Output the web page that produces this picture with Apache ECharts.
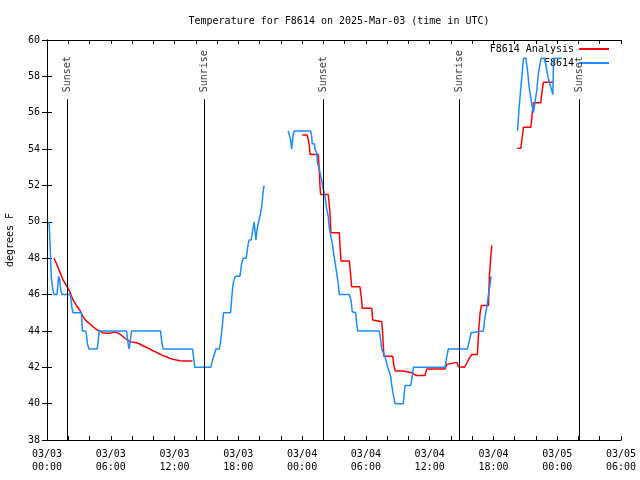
<!DOCTYPE html>
<html>
<head>
<meta charset="utf-8">
<script src="https://cdn.jsdelivr.net/npm/echarts@6/dist/echarts.min.js"></script>
<style>html,body{margin:0;padding:0;background:#fff}#c{width:640px;height:480px}</style>
</head>
<body>
<div id="c"></div>
<script>
// Hours since 2025-03-03 00:00 UTC; null marks a gap
const obsHours = [0.19,0.25,0.35,0.41,0.56,0.66,0.94,1.10,1.20,1.29,1.41,2.20,2.35,2.45,3.24,3.27,3.33,3.64,3.71,3.80,3.95,4.71,4.80,4.90,7.48,7.63,7.72,7.85,7.95,10.68,10.77,10.92,13.69,13.75,13.91,15.41,15.63,15.89,16.20,16.33,16.48,16.61,17.27,17.36,17.51,17.70,18.15,18.31,18.46,18.74,18.93,19.02,19.21,19.40,19.49,19.65,19.77,19.87,20.03,20.19,20.34,20.43,
  null,
  22.69,22.92,23.01,23.16,23.26,24.80,24.90,24.95,25.14,25.21,25.37,25.46,25.61,25.84,25.89,25.99,26.15,26.31,26.46,26.55,26.68,26.84,26.93,27.09,27.25,27.40,27.50,28.44,28.60,28.72,29.04,29.13,29.23,31.26,31.39,31.49,31.64,31.80,31.96,32.05,32.20,32.34,32.43,32.58,32.74,33.52,33.68,34.22,34.41,34.46,37.45,37.61,37.76,39.55,39.71,39.90,40.02,41.05,41.21,41.37,41.53,41.69,41.78,
  null,
  44.26,44.42,44.58,44.73,44.82,45.05,45.20,45.36,45.52,45.67,45.76,45.89,46.08,46.23,46.39,46.48,46.80,46.96,47.12,47.34,47.50,47.59,47.65,48.44];
const obsTemps = [50.0,49.3,47.8,46.9,46.25,46,46,47,46.8,46.25,46,46,45.25,45,45,44.6,44,44,43.8,43.3,43,43,43.3,44,44,43.3,43,43.5,44,44,43.5,43,43,42.7,42,42,42.5,43,43,43.4,44.2,45,45,45.7,46.6,47,47,47.7,48,48,48.8,49,49,49.7,50,49,49.6,49.9,50.3,50.8,51.7,52,
  null,
  55,54.5,54,54.8,55,55,54.7,54.3,54.3,54.0,53.8,53.2,52.9,52.3,52.2,51.8,51.4,50.7,50.3,49.7,49.3,48.8,48.4,47.8,47.2,46.6,46,46,45.7,45.05,45,44.4,44,44,43.5,43,43,42.6,42.2,42,42,41.5,41,40.5,40,40,41,41,41.7,42,42,42.6,43,43,43.4,43.9,44,44,44.8,45.3,46,46.6,47,
  null,
  55,56.3,57.4,58.35,59,59,58.35,57.4,56.8,56.24,56,56.5,57.25,58.17,58.7,59,59,58.5,58,57.5,57.2,57,59,59];

const anaHours = [0.66,0.89,1.20,1.51,1.83,2.14,2.45,2.77,3.08,3.39,3.71,4.02,4.33,4.65,4.96,5.27,5.59,5.90,6.21,6.53,6.85,7.16,7.48,7.79,8.10,8.42,8.73,9.04,9.36,9.67,9.98,10.30,10.61,10.92,11.24,11.55,11.86,12.18,12.49,12.81,13.69,
  null,
  24.01,24.48,24.58,24.67,24.76,25.52,25.61,25.68,25.74,26.46,26.53,26.62,26.69,26.71,27.50,27.59,27.66,28.44,28.57,28.66,29.44,29.60,29.66,30.55,30.64,30.70,31.49,31.58,31.64,31.70,32.52,32.65,32.77,33.52,33.62,34.31,34.69,35.56,35.72,37.45,37.61,37.76,38.55,38.70,38.79,39.26,39.49,39.71,39.96,40.49,40.62,40.74,40.87,41.53,41.62,41.75,41.85,
  null,
  44.26,44.58,44.67,44.82,45.52,45.61,45.71,45.76,46.46,46.55,46.70,47.59];
const anaTemps = [48.0,47.7,47.26,46.8,46.5,46.16,45.7,45.4,45.15,44.78,44.54,44.4,44.23,44.08,44.0,43.9,43.87,43.87,43.92,43.92,43.83,43.68,43.54,43.41,43.37,43.35,43.28,43.17,43.1,43.0,42.91,42.82,42.73,42.64,42.58,42.49,42.44,42.4,42.36,42.34,42.34,
  null,
  54.77,54.77,54.5,54.2,53.7,53.7,52.85,52.0,51.5,51.5,51.1,50.5,49.7,49.4,49.4,48.45,47.85,47.85,47.07,46.43,46.43,45.7,45.24,45.24,44.6,44.5,44.5,43.87,43.13,42.6,42.6,42.03,41.8,41.8,41.7,41.7,41.55,41.55,41.9,41.9,42.16,42.27,42.27,42.03,42.0,42.0,42.22,42.49,42.7,42.7,44.05,44.97,45.4,45.4,47.0,48.1,48.7,
  null,
  54.04,54.04,54.5,55.2,55.2,55.7,56.33,56.55,56.55,57.07,57.67,57.67];

const sunHours = [1.88, 14.78, 25.98, 38.80, 50.09];
const sunLabels = ['Sunset', 'Sunrise', 'Sunset', 'Sunrise', 'Sunset'];
const sunLineTop = 56.74;
const sunLabelBase = 57.12;

const xTickLabels = ['03/03\n00:00','03/03\n06:00','03/03\n12:00','03/03\n18:00','03/04\n00:00','03/04\n06:00','03/04\n12:00','03/04\n18:00','03/05\n00:00','03/05\n06:00'];
const xMin = 0, xMax = 54, xStep = 2, xLabelStep = 6;
const yMin = 38, yMax = 60, yStep = 2;

function pairs(hs, ts) {
  return hs.map((h, i) => (h === null ? [NaN, NaN] : [h, ts[i]]));
}

const FONT = 'DejaVu Sans Mono';
const chart = echarts.init(document.getElementById('c'), null, { renderer: 'canvas' });

const axisLineStyle = { show: true, lineStyle: { color: '#000', width: 1 } };
const xCommon = { type: 'value', min: xMin, max: xMax, interval: xStep, splitLine: { show: false }, axisLine: axisLineStyle,
  axisTick: { show: true, inside: true, length: 4, lineStyle: { color: '#000' } } };
const yCommon = { type: 'value', min: yMin, max: yMax, interval: yStep, splitLine: { show: false }, axisLine: axisLineStyle,
  axisTick: { show: true, inside: true, length: 5, lineStyle: { color: '#000' } } };

chart.setOption({
  animation: false,
  backgroundColor: '#fff',
  textStyle: { fontFamily: FONT },
  title: {
    text: 'Temperature for F8614 on 2025-Mar-03 (time in UTC)',
    left: 334, top: 11, textAlign: 'center',
    textStyle: { fontFamily: FONT, fontSize: 10, fontWeight: 'normal', color: '#000' }
  },
  legend: {
    orient: 'vertical', right: 26, top: 38, align: 'right', itemGap: 2,
    itemWidth: 30, itemHeight: 2, icon: 'rect',
    textStyle: { fontFamily: FONT, fontSize: 10, color: '#000', lineHeight: 12 },
    data: ['F8614 Analysis', 'F8614']
  },
  grid: { left: 47, right: 19, top: 40, bottom: 40, containLabel: false, outerBoundsMode: 'none' },
  xAxis: [
    Object.assign({}, xCommon, {
      position: 'bottom',
      axisLabel: {
        show: true, margin: 8, color: '#000', fontFamily: FONT, fontSize: 10, lineHeight: 13,
        formatter: v => (Math.abs(v % xLabelStep) < 1e-6 ? xTickLabels[Math.round(v / xLabelStep)] : '')
      }
    }),
    Object.assign({}, xCommon, { position: 'top', axisLabel: { show: false } })
  ],
  yAxis: [
    Object.assign({}, yCommon, {
      position: 'left',
      name: 'degrees F', nameLocation: 'middle', nameGap: 32, nameRotate: 90,
      nameTextStyle: { fontFamily: FONT, fontSize: 10, color: '#000' },
      axisLabel: { show: true, margin: 7, color: '#000', fontFamily: FONT, fontSize: 10 }
    }),
    Object.assign({}, yCommon, { position: 'right', axisLabel: { show: false } })
  ],
  series: [
    {
      name: 'F8614 Analysis', type: 'line', xAxisIndex: 0, yAxisIndex: 0,
      data: pairs(anaHours, anaTemps), showSymbol: false, connectNulls: false,
      lineStyle: { color: '#ff0000', width: 1.5 }, itemStyle: { color: '#ff0000' }, z: 3
    },
    {
      name: 'F8614', type: 'line', xAxisIndex: 0, yAxisIndex: 0,
      data: pairs(obsHours, obsTemps), showSymbol: false, connectNulls: false,
      lineStyle: { color: '#1a8cff', width: 1.5 }, itemStyle: { color: '#1a8cff' }, z: 4
    },
    {
      name: 'sun', type: 'scatter', xAxisIndex: 0, yAxisIndex: 0,
      data: sunHours.map((h, i) => ({ value: [h, sunLabelBase], label: { formatter: sunLabels[i] } })),
      symbolSize: 0, silent: true, z: 5,
      label: { show: true, position: 'inside', rotate: 90, align: 'left', verticalAlign: 'middle',
        fontFamily: FONT, fontSize: 10, color: '#000' },
      markLine: {
        silent: true, symbol: ['none', 'none'], animation: false,
        label: { show: false },
        lineStyle: { color: '#000', width: 1, type: 'solid' },
        data: sunHours.map(h => [{ coord: [h, yMin] }, { coord: [h, sunLineTop] }])
      }
    }
  ]
});
</script>
</body>
</html>
